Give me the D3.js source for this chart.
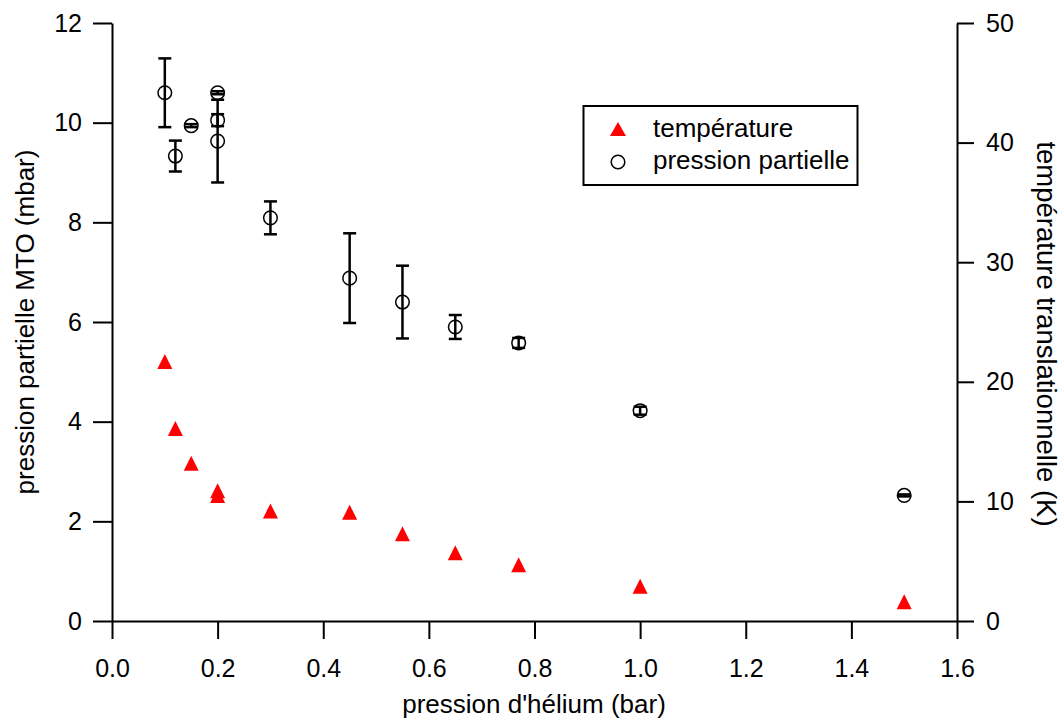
<!DOCTYPE html>
<html><head><meta charset="utf-8">
<script src="https://cdn.jsdelivr.net/npm/d3@7"></script>
<style>
html,body{margin:0;padding:0;background:#fff;}
svg{display:block;font-family:"Liberation Sans",Arial,sans-serif;}
</style></head>
<body>
<svg id="chart" width="1062" height="718"></svg>
<script>
// pression partielle (mbar) vs pression d'hélium (bar)
const pressionX = [0.10, 0.12, 0.15, 0.20, 0.20, 0.20, 0.30, 0.45, 0.55, 0.65, 0.77, 1.00, 1.50];
const pressionY = [10.6, 9.33, 9.94, 10.6, 10.05, 9.63, 8.09, 6.88, 6.40, 5.90, 5.58, 4.22, 2.52];
const pressionErr = [0.69, 0.31, 0.03, 0.03, 0.12, 0.83, 0.33, 0.90, 0.73, 0.24, 0.10, 0.08, 0.02];
// température translationnelle (K)
const tempX = [0.10, 0.12, 0.15, 0.20, 0.20, 0.30, 0.45, 0.55, 0.65, 0.77, 1.00, 1.50];
const tempY = [21.7, 16.1, 13.2, 10.9, 10.5, 9.2, 9.1, 7.3, 5.7, 4.7, 2.9, 1.6];
const xTicks = [0, 0.2, 0.4, 0.6, 0.8, 1.0, 1.2, 1.4, 1.6];
const yLeftTicks = [0, 2, 4, 6, 8, 10, 12];
const yRightTicks = [0, 10, 20, 30, 40, 50];

const svg = d3.select("#chart");
const L = 112, R = 957, T = 23, B = 621;
const x = d3.scaleLinear().domain([0, 1.6]).range([L, R]);
const yL = d3.scaleLinear().domain([0, 12]).range([B, T]);
const yR = d3.scaleLinear().domain([0, 50]).range([B, T]);

function styleAxis(g, fs) {
  g.selectAll("path.domain").attr("stroke", "#000").attr("stroke-width", 2);
  g.selectAll(".tick line").attr("stroke", "#000").attr("stroke-width", 2);
  g.selectAll(".tick text").attr("fill", "#000").style("font-size", fs + "px")
    .style("font-family", "'Liberation Sans', Arial, sans-serif");
}

const gx = svg.append("g").attr("transform", `translate(0,${B})`)
  .call(d3.axisBottom(x).tickValues(xTicks).tickFormat(d3.format(".1f")).tickSize(18).tickSizeOuter(0).tickPadding(20));
styleAxis(gx, 25);

const gl = svg.append("g").attr("transform", `translate(${L},0)`)
  .call(d3.axisLeft(yL).tickValues(yLeftTicks).tickFormat(d3.format("d")).tickSize(19).tickSizeOuter(0).tickPadding(11));
styleAxis(gl, 25);

const gr = svg.append("g").attr("transform", `translate(${R},0)`)
  .call(d3.axisRight(yR).tickValues(yRightTicks).tickFormat(d3.format("d")).tickSize(17).tickSizeOuter(0).tickPadding(12));
styleAxis(gr, 25);

// titles
svg.append("text").attr("x", (L + R) / 2 - 0.5).attr("y", 713).attr("text-anchor", "middle")
  .style("font-size", "26px").text("pression d'hélium (bar)");
svg.append("text").attr("transform", `translate(34,${(T + B) / 2}) rotate(-90)`).attr("text-anchor", "middle")
  .style("font-size", "26px").text("pression partielle MTO (mbar)");
svg.append("text").attr("transform", `translate(1037,334) rotate(90)`).attr("text-anchor", "middle")
  .style("font-size", "27.5px").text("température translationnelle (K)");

// triangle path
const tri = "M0,-7.5L7.5,7.5L-7.5,7.5Z";

// temperature triangles
svg.append("g").selectAll("path").data(tempX.map((d, i) => [d, tempY[i]])).join("path")
  .attr("d", tri).attr("fill", "#ff0000")
  .attr("transform", d => `translate(${x(d[0])},${yR(d[1])})`);

// error bars
const pdata = pressionX.map((d, i) => ({x: d, y: pressionY[i], e: pressionErr[i]}));
const eg = svg.append("g").attr("stroke", "#000").attr("stroke-width", 2.5);
pdata.forEach(d => {
  const cx = x(d.x), y1 = yL(d.y + d.e), y2 = yL(d.y - d.e);
  eg.append("line").attr("x1", cx).attr("x2", cx).attr("y1", y1).attr("y2", y2);
  eg.append("line").attr("x1", cx - 6.5).attr("x2", cx + 6.5).attr("y1", y1).attr("y2", y1);
  eg.append("line").attr("x1", cx - 6.5).attr("x2", cx + 6.5).attr("y1", y2).attr("y2", y2);
});
// circles
svg.append("g").selectAll("circle").data(pdata).join("circle")
  .attr("cx", d => x(d.x)).attr("cy", d => yL(d.y)).attr("r", 6.8)
  .attr("fill", "none").attr("stroke", "#000").attr("stroke-width", 1.5);

// legend
const lg = svg.append("g");
lg.append("rect").attr("x", 583.5).attr("y", 106).attr("width", 274).attr("height", 79)
  .attr("fill", "#fff").attr("stroke", "#000").attr("stroke-width", 2);
lg.append("path").attr("d", "M0,-7L8,7L-8,7Z").attr("fill", "#ff0000").attr("transform", "translate(618,129)");
lg.append("circle").attr("cx", 618).attr("cy", 162).attr("r", 6.8).attr("fill", "none")
  .attr("stroke", "#000").attr("stroke-width", 1.5);
lg.append("text").attr("x", 653).attr("y", 137).style("font-size", "26px").text("température");
lg.append("text").attr("x", 653).attr("y", 169).style("font-size", "26px").text("pression partielle");
</script>
</body></html>
